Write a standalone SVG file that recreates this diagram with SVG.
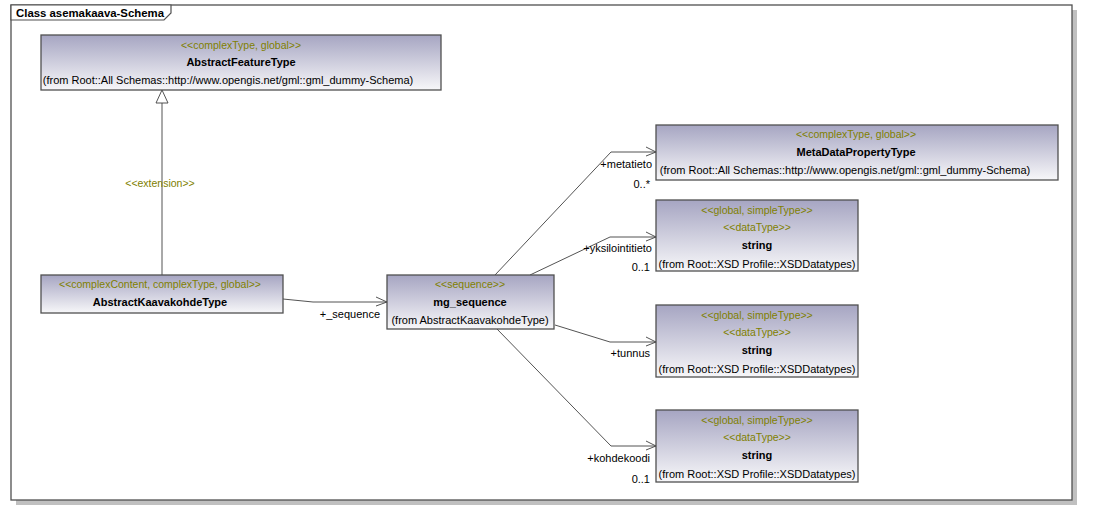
<svg xmlns="http://www.w3.org/2000/svg" width="1098" height="521" viewBox="0 0 1098 521">
<style>
text{font-family:"Liberation Sans",Arial,sans-serif;font-size:11px;fill:#000}
.st{fill:#808000;font-size:10.5px}
.nm{font-weight:bold}
.c{text-anchor:middle}
.r{text-anchor:end}
.box{fill:url(#g);stroke:#505050;stroke-width:1.3}
.ln{fill:none;stroke:#404040;stroke-width:0.9}
</style>
<defs>
<linearGradient id="g" x1="0" y1="0" x2="0" y2="1">
<stop offset="0" stop-color="#a6a5c2"/>
<stop offset="1" stop-color="#f7f7f9"/>
</linearGradient>
</defs>
<rect width="1098" height="521" fill="#fff"/>
<g id="frame">
<rect x="16" y="10" width="1061" height="495" fill="#c0c0c0"/>
<rect x="11" y="5" width="1061" height="495" fill="#fff" stroke="#505050" stroke-width="1.3"/>
<polygon points="11,5 171,5 171,13 164,20 11,20" fill="#fff" stroke="#505050" stroke-width="1.2"/>
<text x="16" y="17" font-weight="bold" textLength="148" lengthAdjust="spacingAndGlyphs">Class asemakaava-Schema</text>
</g>
<g id="connectors">
<line class="ln" x1="162" y1="275" x2="162" y2="103"/>
<polygon points="162,90 156,103 168,103" fill="#fff" stroke="#404040" stroke-width="0.9"/>
<text class="st c" x="160" y="187">&lt;&lt;extension&gt;&gt;</text>
<polyline class="ln" points="283,299 313,302 387,302"/>
<polyline class="ln" points="376,297 387,302 376,306"/>
<text class="r" x="380" y="318">+_sequence</text>
<polyline class="ln" points="495,275 611,152 656,152"/>
<polyline class="ln" points="646,147 656,152 646,156"/>
<text class="r" x="652" y="168">+metatieto</text>
<text class="r" x="650" y="188">0..*</text>
<polyline class="ln" points="530,275 610,237 656,237"/>
<polyline class="ln" points="646,232 656,237 646,241"/>
<text class="r" x="652" y="252">+yksilointitieto</text>
<text class="r" x="650" y="271">0..1</text>
<polyline class="ln" points="555,325 610,342 656,342"/>
<polyline class="ln" points="646,337 656,342 646,346"/>
<text class="r" x="650" y="357">+tunnus</text>
<polyline class="ln" points="497,329 611,446 656,446"/>
<polyline class="ln" points="646,441 656,446 646,450"/>
<text class="r" x="650" y="462">+kohdekoodi</text>
<text class="r" x="650" y="483">0..1</text>
</g>
<g id="AbstractFeatureType">
<rect class="box" x="41" y="35" width="400" height="55"/>
<text class="st c" x="241" y="49">&lt;&lt;complexType, global&gt;&gt;</text>
<text class="nm c" x="241" y="66">AbstractFeatureType</text>
<text class="c" x="228" y="84">(from Root::All Schemas::http://www.opengis.net/gml::gml_dummy-Schema)</text>
</g>
<g id="AbstractKaavakohdeType">
<rect class="box" x="41" y="275" width="242" height="38"/>
<text class="st c" x="160" y="288">&lt;&lt;complexContent, complexType, global&gt;&gt;</text>
<text class="nm c" x="160" y="306">AbstractKaavakohdeType</text>
</g>
<g id="mg_sequence">
<rect class="box" x="387" y="275" width="167" height="54"/>
<text class="st c" x="470" y="288">&lt;&lt;sequence&gt;&gt;</text>
<text class="nm c" x="470" y="306">mg_sequence</text>
<text class="c" x="470" y="324">(from AbstractKaavakohdeType)</text>
</g>
<g id="MetaDataPropertyType">
<rect class="box" x="656" y="125" width="402" height="55"/>
<text class="st c" x="856" y="138">&lt;&lt;complexType, global&gt;&gt;</text>
<text class="nm c" x="856" y="156">MetaDataPropertyType</text>
<text class="c" x="845" y="174">(from Root::All Schemas::http://www.opengis.net/gml::gml_dummy-Schema)</text>
</g>
<g id="string1">
<rect class="box" x="656" y="200" width="202" height="71"/>
<text class="st c" x="757" y="214">&lt;&lt;global, simpleType&gt;&gt;</text>
<text class="st c" x="757" y="231">&lt;&lt;dataType&gt;&gt;</text>
<text class="nm c" x="757" y="249">string</text>
<text class="c" x="757" y="268">(from Root::XSD Profile::XSDDatatypes)</text>
</g>
<g id="string2">
<rect class="box" x="656" y="305" width="202" height="72"/>
<text class="st c" x="757" y="319">&lt;&lt;global, simpleType&gt;&gt;</text>
<text class="st c" x="757" y="336">&lt;&lt;dataType&gt;&gt;</text>
<text class="nm c" x="757" y="354">string</text>
<text class="c" x="757" y="373">(from Root::XSD Profile::XSDDatatypes)</text>
</g>
<g id="string3">
<rect class="box" x="656" y="410" width="202" height="72"/>
<text class="st c" x="757" y="424">&lt;&lt;global, simpleType&gt;&gt;</text>
<text class="st c" x="757" y="441">&lt;&lt;dataType&gt;&gt;</text>
<text class="nm c" x="757" y="459">string</text>
<text class="c" x="757" y="478">(from Root::XSD Profile::XSDDatatypes)</text>
</g>
</svg>
